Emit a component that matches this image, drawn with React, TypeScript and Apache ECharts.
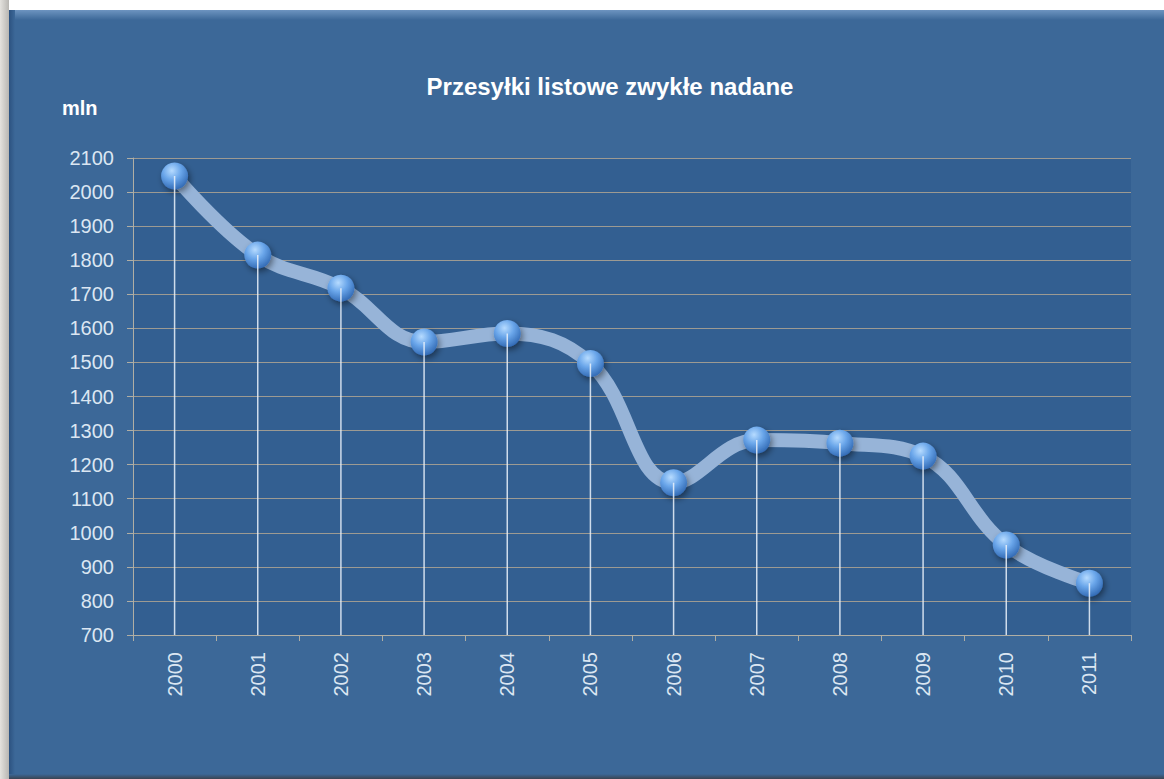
import React, { useEffect, useRef } from "react";
import * as echarts from "echarts";

const years = ["2000", "2001", "2002", "2003", "2004", "2005", "2006", "2007", "2008", "2009", "2010", "2011"];
const values = [2047, 1815, 1718, 1560, 1585, 1497, 1147, 1272, 1263, 1225, 964, 852];
const titleText = "Przesyłki listowe zwykłe nadane";
const unitText = "mln";

export default function App() {
  const ref = useRef<HTMLDivElement>(null);
  useEffect(() => {
    if (!ref.current) return;
    const chart = echarts.init(ref.current, null, { renderer: "svg" });
    const font = "'Liberation Sans', Arial, sans-serif";
    chart.setOption({
      animation: false,
      backgroundColor: "#ffffff",
      graphic: [
        {
          type: "rect",
          z: -10,
          silent: true,
          shape: { x: 0, y: 0, width: 9, height: 779 },
          style: {
            fill: new echarts.graphic.LinearGradient(0, 0, 1, 0, [
              { offset: 0, color: "#e4e2de" },
              { offset: 1, color: "#b8b6b2" },
            ]),
          },
        },
        {
          type: "rect",
          z: -10,
          silent: true,
          shape: { x: 9, y: 10, width: 1155, height: 769 },
          style: { fill: "#3c6898" },
        },
        {
          type: "rect",
          z: -9,
          silent: true,
          shape: { x: 9, y: 10, width: 1155, height: 10 },
          style: {
            fill: new echarts.graphic.LinearGradient(0, 0, 0, 1, [
              { offset: 0, color: "#6d94c0" },
              { offset: 1, color: "#3c6898" },
            ]),
          },
        },
        {
          type: "rect",
          z: -9,
          silent: true,
          shape: { x: 9, y: 10, width: 6, height: 769 },
          style: {
            fill: new echarts.graphic.LinearGradient(0, 0, 1, 0, [
              { offset: 0, color: "#2c5280" },
              { offset: 1, color: "#3c6898" },
            ]),
          },
        },
        {
          type: "rect",
          z: -9,
          silent: true,
          shape: { x: 9, y: 774, width: 1155, height: 5 },
          style: {
            fill: new echarts.graphic.LinearGradient(0, 0, 0, 1, [
              { offset: 0, color: "#3c6898" },
              { offset: 1, color: "#3a4452" },
            ]),
          },
        },
        {
          type: "text",
          x: 610,
          y: 86,
          style: {
            text: titleText,
            fill: "#ffffff",
            font: `bold 24px ${font}`,
            textAlign: "center",
            textVerticalAlign: "middle",
          },
        },
        {
          type: "text",
          x: 62,
          y: 108,
          style: {
            text: unitText,
            fill: "#ffffff",
            font: `bold 20px ${font}`,
            textAlign: "left",
            textVerticalAlign: "middle",
          },
        },
      ],
      grid: {
        left: 133,
        right: 33,
        top: 158,
        bottom: 144,
        show: true,
        backgroundColor: "#335f91",
        borderWidth: 0,
      },
      xAxis: {
        type: "category",
        data: years,
        boundaryGap: true,
        axisLine: { show: true, lineStyle: { color: "#b0aea4", width: 1 } },
        axisTick: { show: true, length: 6, lineStyle: { color: "#b0aea4" } },
        axisLabel: {
          rotate: 90,
          margin: 17,
          color: "#dbe6f2",
          fontSize: 20,
          fontFamily: font,
        },
        splitLine: { show: false },
      },
      yAxis: {
        type: "value",
        min: 700,
        max: 2100,
        interval: 100,
        axisLine: { show: true, lineStyle: { color: "#b0aea4", width: 1 } },
        axisTick: { show: true, length: 6, lineStyle: { color: "#b0aea4" } },
        axisLabel: {
          margin: 19,
          color: "#dbe6f2",
          fontSize: 20,
          fontFamily: font,
          formatter: (v: number) => String(v),
        },
        splitLine: { show: true, lineStyle: { color: "#9d9a92", width: 1 } },
      },
      series: [
        {
          type: "line",
          data: values,
          smooth: 0.4,
          z: 2,
          lineStyle: { color: "#97b4d8", width: 14, cap: "round" },
          symbol: "circle",
          symbolSize: 27,
          itemStyle: {
            color: new echarts.graphic.RadialGradient(0.4, 0.3, 0.75, [
              { offset: 0, color: "#b6dbff" },
              { offset: 0.45, color: "#6aa6ea" },
              { offset: 1, color: "#2d65b0" },
            ]),
            shadowBlur: 6,
            shadowColor: "rgba(0,0,0,0.45)",
            shadowOffsetX: 2,
            shadowOffsetY: 3,
          },
        },
        {
          type: "bar",
          data: values,
          barWidth: 1.5,
          z: 3,
          silent: true,
          itemStyle: { color: "rgba(235,242,250,0.85)" },
        },
      ],
    });
    return () => chart.dispose();
  }, []);
  return (
    <div
      ref={ref}
      style={{ position: "absolute", left: 0, top: 0, width: 1164, height: 779 }}
    />
  );
}
